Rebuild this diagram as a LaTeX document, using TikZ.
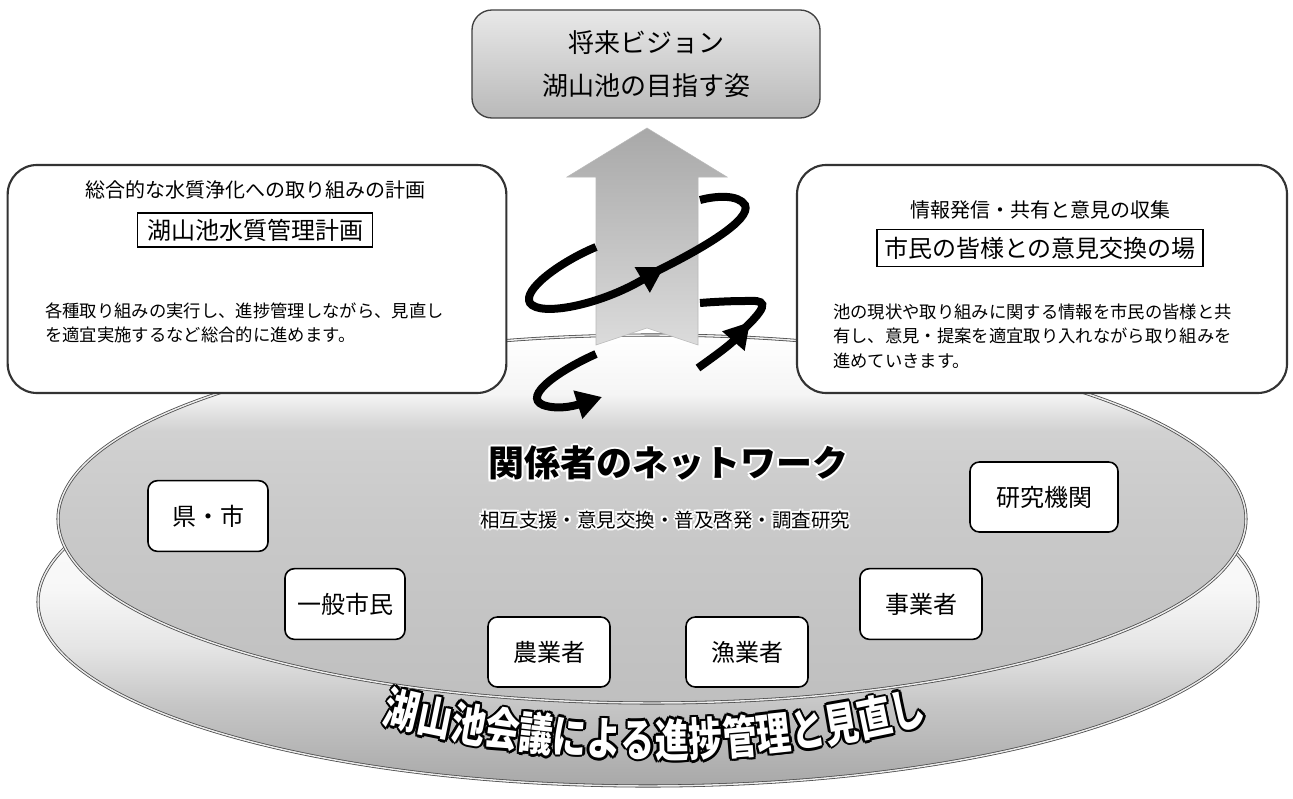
\documentclass[tikz,border=0pt]{standalone}
\usepackage{fontspec}
\usetikzlibrary{arrows.meta}
\newfontfamily\jp{Noto Sans CJK JP}

\pgfdeclareverticalshading{netdisk}{100bp}{color(0bp)=(gray!50); color(25bp)=(gray!50); color(50bp)=(gray!42); color(62bp)=(gray!36); color(67bp)=(gray!8); color(75bp)=(white); color(100bp)=(white)}
\pgfdeclareverticalshading{basedisk}{100bp}{color(0bp)=(gray!68); color(25bp)=(gray!68); color(36bp)=(gray!45); color(44bp)=(gray!20); color(52bp)=(gray!6); color(75bp)=(white); color(100bp)=(white)}

\tikzset{
  vision/.style={draw=black!75, line width=1pt, rounded corners=15pt,
    top color=gray!18, bottom color=gray!55,
    minimum width=261pt, minimum height=81pt, align=center,
    font=\jp\fontsize{19.5}{32}\selectfont},
  panel/.style={draw=black!80, line width=1.6pt, rounded corners=22pt,
    fill=white, minimum height=171pt},
  paneltitle/.style={font=\jp\fontsize{15}{18}\selectfont},
  namebox/.style={draw, line width=0.8pt, fill=white, inner sep=0pt,
    font=\jp\fontsize{18}{20}\selectfont},
  paneltext/.style={font=\jp\fontsize{13}{18.3}\selectfont, align=left,
    anchor=west, inner sep=0pt},
  member/.style={draw, line width=1.2pt, rounded corners=7pt, fill=white,
    minimum height=53pt, font=\jp\fontsize{18}{20}\selectfont},
  rim/.style={draw=black!70, double=gray!15, double distance=1.1pt, line width=0.6pt},
  spiral/.style={line width=6pt, black},
  spiraltip/.style={-{Triangle[length=19pt,width=21pt]}},
  bandchar/.style={font=\jp\bfseries\fontsize{34}{34}\selectfont, inner sep=0pt}
}

\begin{document}
\begin{tikzpicture}[x=0.75pt,y=-0.75pt]
\useasboundingbox[fill=white] (0,0) rectangle (1293,799);

% Lower disk
\draw[rim, shading=basedisk] (648,602) ellipse [x radius=610, y radius=184];

% Upper disk
\draw[rim, shading=netdisk] (652,519) ellipse [x radius=594, y radius=184];

% Big arrow
\draw[draw=gray!55, top color=gray!68, bottom color=gray!28]
  (596,345) -- (596,177) -- (567,177) -- (647,128) -- (727,177)
  -- (698,177) -- (698,345) -- (647,328) -- cycle;

% Spiral, upper turn
\draw[spiral, spiraltip] (596,247) .. controls (560,262) and (522,290) .. (530,303)
  .. controls (540,317) and (600,305) .. (664,267);
\draw[spiral] (655,272) .. controls (700,250) and (752,220) .. (745,205)
  .. controls (738,194) and (715,196) .. (700,200);

% Spiral, lower turn
\draw[spiral, spiraltip] (596,354) .. controls (560,370) and (522,396) .. (543,405)
  .. controls (560,411) and (580,404) .. (602,397);
\draw[spiral, spiraltip] (698,368) .. controls (712,358) and (730,345) .. (750,322);
\draw[spiral] (745,328) .. controls (772,302) and (764,300) .. (745,301)
  .. controls (730,301) and (712,302) .. (700,303);

% Vision
\node[vision] (vision) at (646,64) {将来ビジョン\\湖山池の目指す姿};

% Plan panel
\node[panel, minimum width=374pt] (plan) at (257,279) {};
\node[paneltitle] (plantitle) at (255,190) {総合的な水質浄化への取り組みの計画};
\node[namebox, minimum width=176pt, minimum height=25.5pt] (planname) at (255,230) {湖山池水質管理計画};
\node[paneltext] (plantext) at (45,323)
  {各種取り組みの実行し、進捗管理しながら、見直し\\を適宜実施するなど総合的に進めます。};

% Forum panel
\node[panel, minimum width=367.5pt] (forum) at (1042,279) {};
\node[paneltitle] (forumtitle) at (1040,210) {情報発信・共有と意見の収集};
\node[namebox, minimum width=244.5pt, minimum height=28pt] (forumname) at (1040,248) {市民の皆様との意見交換の場};
\node[paneltext] (forumtext) at (833,336)
  {池の現状や取り組みに関する情報を市民の皆様と共\\有し、意見・提案を適宜取り入れながら取り組みを\\進めていきます。};

% Network title with white halo
\foreach \dx/\dy [count=\k] in {-2/0,2/0,0/-2,0/2,-1.5/-1.5,1.5/-1.5,-1.5/1.5,1.5/1.5}
{
  \node[text=white, font=\jp\bfseries\fontsize{27}{27}\selectfont]
    (nethalo-\k) at (668+\dx,463+\dy) {関係者のネットワーク};
  \node[text=white, font=\jp\fontsize{14.6}{16}\selectfont]
    (subhalo-\k) at (665+\dx,520+\dy) {相互支援・意見交換・普及啓発・調査研究};
}
\node[font=\jp\bfseries\fontsize{27}{27}\selectfont] (net) at (668,463) {関係者のネットワーク};
\node[font=\jp\fontsize{14.6}{16}\selectfont] (netsub) at (665,520) {相互支援・意見交換・普及啓発・調査研究};

\node[member, minimum width=90pt] (ken) at (208,516) {県・市};
\node[member, minimum width=90pt] (shimin) at (345,604) {一般市民};
\node[member, minimum width=91.5pt, minimum height=52.5pt] (nogyo) at (549,652) {農業者};
\node[member, minimum width=91.5pt, minimum height=52.5pt] (gyogyo) at (747,652) {漁業者};
\node[member, minimum width=91.5pt] (jigyo) at (921,604) {事業者};
\node[member, minimum width=111pt, minimum height=52.5pt] (kenkyu) at (1044,497) {研究機関};

% Conference band text: black rim, then white letters
\foreach \ch [count=\i from 0] in {湖,山,池,会,議,に,よ,る,進,捗,管,理,と,見,直,し}
{
  \pgfmathsetmacro{\ang}{(\i-7.5)*1.79}
  \foreach \dx/\dy [count=\k] in {-2.5/0,2.5/0,0/-2.5,0/2.5,-1.8/-1.8,1.8/-1.8,-1.8/1.8,1.8/1.8}
    \node[bandchar, rotate=\ang, xscale=0.75]
      (rim-\i-\k) at ({655+1088*sin(\ang)+\dx},{-348+1088*cos(\ang)+\dy}) {\ch};
}
\foreach \ch [count=\i from 0] in {湖,山,池,会,議,に,よ,る,進,捗,管,理,と,見,直,し}
{
  \pgfmathsetmacro{\ang}{(\i-7.5)*1.79}
  \node[bandchar, text=white, rotate=\ang, xscale=0.75]
    (band-\i) at ({655+1088*sin(\ang)},{-348+1088*cos(\ang)}) {\ch};
}

\end{tikzpicture}
\end{document}
